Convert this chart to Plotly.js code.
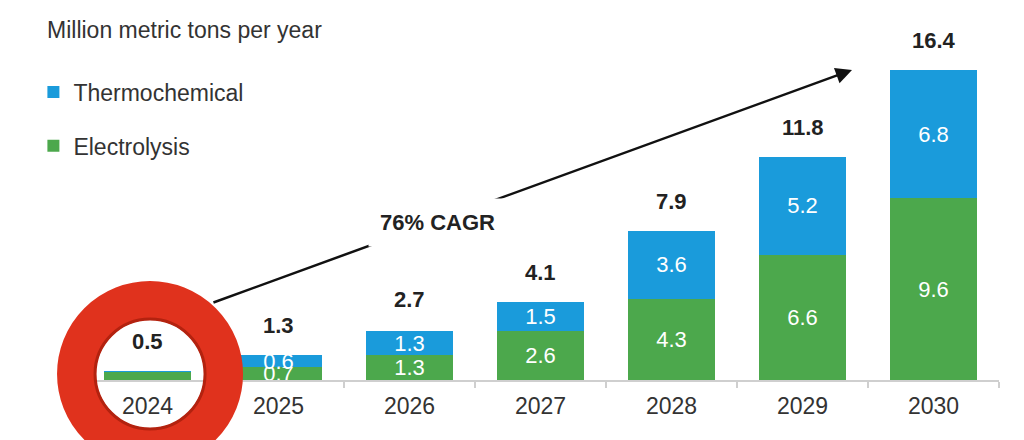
<!DOCTYPE html>
<html>
<head>
<meta charset="utf-8">
<script src="https://cdn.plot.ly/plotly-3.0.1.min.js"></script>
<style>html,body{margin:0;padding:0;background:#fff;}#chart{width:1024px;height:440px;}</style>
</head>
<body>
<div id="chart"></div>
<script>
var years = ['2024', '2025', '2026', '2027', '2028', '2029', '2030'];
var electrolysis = [0.4, 0.7, 1.3, 2.6, 4.3, 6.6, 9.6];
var thermochemical = [0.1, 0.6, 1.3, 1.5, 3.6, 5.2, 6.8];
var totals = [0.5, 1.3, 2.7, 4.1, 7.9, 11.8, 16.4];
var unitLabel = 'Million metric tons per year';
var cagrLabel = '76% CAGR';

var SANS = '"Liberation Sans", Arial, sans-serif';

function segText(arr) {
  return arr.map(function (v) { return v >= 0.5 ? v.toFixed(1) : ''; });
}

var traces = [
  {
    type: 'bar', name: 'Electrolysis', x: years, y: electrolysis,
    text: segText(electrolysis), textposition: 'inside', insidetextanchor: 'middle',
    constraintext: 'none', textfont: {family: SANS, size: 22, color: '#ffffff'},
    marker: {color: '#4CA84C'}, legendgroup: 'e', legendrank: 2, hoverinfo: 'skip'
  },
  {
    type: 'bar', name: 'Thermochemical', x: years, y: thermochemical,
    text: segText(thermochemical), textposition: 'inside', insidetextanchor: 'middle',
    constraintext: 'none', textfont: {family: SANS, size: 22, color: '#ffffff'},
    marker: {color: '#1A9BDB'}, legendgroup: 't', legendrank: 1, hoverinfo: 'skip'
  }
];

var annotations = years.map(function (yr, i) {
  return {
    x: i, y: totals[i], xref: 'x', yref: 'y', text: totals[i].toFixed(1),
    showarrow: false, yanchor: 'bottom', yshift: 15,
    font: {family: SANS, size: 22, color: '#222222', weight: 'bold'}
  };
});

// growth arrow (tail near 2024, head beyond 2030 total)
annotations.push({
  x: 5.378, y: 16.39, xref: 'x', yref: 'y',
  ax: 0.492, ay: 4.07, axref: 'x', ayref: 'y',
  text: '', showarrow: true, arrowhead: 2, arrowsize: 1.3, arrowwidth: 2.5,
  arrowcolor: '#111111', standoff: 0, startstandoff: 0
});
annotations.push({
  x: 2.21, y: 8.35, xref: 'x', yref: 'y', text: cagrLabel, showarrow: false,
  bgcolor: '#ffffff', borderpad: 11,
  font: {family: SANS, size: 22, color: '#222222', weight: 'bold'}
});

var shapes = [
  {
    type: 'circle', xref: 'paper', yref: 'paper', xsizemode: 'pixel', ysizemode: 'pixel',
    xanchor: 0.0742, yanchor: 0.018, x0: -73.5, x1: 73.5, y0: -73.5, y1: 73.5,
    line: {color: '#E0321D', width: 39}, fillcolor: 'rgba(0,0,0,0)', layer: 'above'
  },
  {
    type: 'circle', xref: 'paper', yref: 'paper', xsizemode: 'pixel', ysizemode: 'pixel',
    xanchor: 0.0742, yanchor: 0.018, x0: -55, x1: 55, y0: -55, y1: 55,
    line: {color: '#B3220F', width: 3}, fillcolor: 'rgba(0,0,0,0)', layer: 'above'
  }
];

var layout = {
  width: 1024, height: 440,
  margin: {l: 82, r: 25, t: 49, b: 60},
  paper_bgcolor: '#ffffff', plot_bgcolor: '#ffffff',
  barmode: 'stack', bargap: 0.335,
  title: {
    text: unitLabel, x: 47 / 1024, xanchor: 'left', y: 1 - 30 / 440, yanchor: 'middle',
    font: {family: SANS, size: 23, color: '#333333'}
  },
  xaxis: {
    type: 'category', range: [-0.5, 6.5], autorange: false,
    showline: true, linecolor: '#cfcfcf', linewidth: 2,
    ticks: 'outside', tickson: 'boundaries', ticklen: 6, tickcolor: '#cfcfcf', tickwidth: 2,
    showgrid: false, zeroline: false, ticklabelstandoff: 4, tickangle: 0,
    tickfont: {family: SANS, size: 23, color: '#333333'}
  },
  yaxis: {visible: false, range: [0, 17.5], autorange: false, showgrid: false, zeroline: false},
  showlegend: true,
  legend: {
    x: -0.053, xanchor: 'left', y: 0.935, yanchor: 'top',
    traceorder: 'grouped', tracegroupgap: 21,
    font: {family: SANS, size: 23, color: '#333333'}, bgcolor: 'rgba(0,0,0,0)'
  },
  annotations: annotations,
  shapes: shapes
};

Plotly.newPlot('chart', traces, layout, {staticPlot: true, displayModeBar: false});
</script>
</body>
</html>
